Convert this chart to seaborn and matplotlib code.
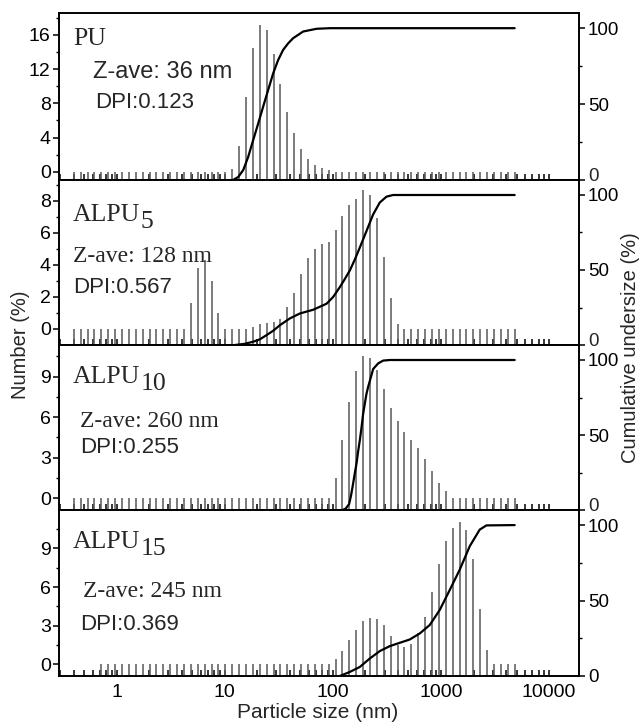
import matplotlib
matplotlib.use("Agg")
import matplotlib.pyplot as plt
from matplotlib.ticker import FixedLocator, LogLocator, NullFormatter, FixedFormatter
import numpy as np
import pandas as pd
import seaborn as sns

# Size classes of the DLS instrument (nm)
size_bins = [0.4000, 0.4632, 0.5365, 0.6213, 0.7195, 0.8332, 0.9649, 1.117, 1.294, 1.499,
             1.736, 2.010, 2.328, 2.696, 3.122, 3.615, 4.187, 4.849, 5.615, 6.503,
             7.531, 8.721, 10.10, 11.70, 13.54, 15.69, 18.17, 21.04, 24.36, 28.21,
             32.67, 37.84, 43.82, 50.75, 58.77, 68.06, 78.82, 91.28, 105.7, 122.4,
             141.8, 164.2, 190.1, 220.2, 255.0, 295.3, 342.0, 396.1, 458.7, 531.2,
             615.1, 712.4, 825.0, 955.4, 1106, 1281, 1484, 1718, 1990, 2305,
             2669, 3091, 3580, 4145, 4801]

# Number distributions (%)
pu_number = [0, 0, 0, 0, 0, 0, 0, 0, 0, 0,
             0, 0, 0, 0, 0, 0, 0, 0, 0, 0,
             0, 0, 0, 0.3, 3.0, 8.7, 14.5, 17.2, 16.6, 13.8,
             10.3, 7.0, 4.5, 2.65, 1.45, 0.8, 0.47, 0.2, 0, 0,
             0, 0, 0, 0, 0, 0, 0, 0, 0, 0,
             0, 0, 0, 0, 0, 0, 0, 0, 0, 0,
             0, 0, 0, 0, 0]
alpu5_number = [0, 0, 0, 0, 0, 0, 0, 0, 0, 0,
                0, 0, 0, 0, 0, 0, 0, 1.6, 3.83, 4.3,
                3.0, 1.0, 0, 0, 0, 0, 0.1, 0.3, 0.35, 0.45,
                0.6, 1.35, 2.26, 3.4, 4.4, 5.0, 5.3, 5.4, 6.2, 7.06,
                7.7, 8.1, 8.67, 8.35, 6.9, 4.5, 1.9, 0.3, 0, 0,
                0, 0, 0, 0, 0, 0, 0, 0, 0, 0,
                0, 0, 0, 0, 0]
alpu10_number = [0, 0, 0, 0, 0, 0, 0, 0, 0, 0,
                 0, 0, 0, 0, 0, 0, 0, 0, 0, 0,
                 0, 0, 0, 0, 0, 0, 0, 0, 0, 0,
                 0, 0, 0, 0, 0, 0, 0, 0, 1.5, 4.3,
                 7.1, 9.4, 10.5, 10.4, 9.5, 8.1, 6.7, 5.7, 4.9, 4.3,
                 3.7, 2.9, 2.0, 1.15, 0.5, 0, 0, 0, 0, 0,
                 0, 0, 0, 0, 0]
alpu15_number = [np.nan, np.nan, np.nan, np.nan, 0, 0, 0, 0, 0, 0,
                 0, 0, 0, 0, 0, 0, 0, 0, 0, 0,
                 0, 0, 0, 0, 0, 0, 0, 0, 0, 0,
                 0, 0, 0, 0, 0, 0, 0, 0, 0.44, 1.0,
                 1.87, 2.65, 3.35, 3.63, 3.5, 3.03, 2.2, 1.53, 1.35, 1.6,
                 2.4, 3.7, 5.6, 7.76, 9.57, 10.6, 11.07, 10.4, 8.15, 4.33,
                 1.09, 0, 0, 0, 0]

# Cumulative undersize curves (size in nm, value in %)
pu_cum_size = [11.9, 13.3, 14.8, 16.4, 18.3, 20.3, 22.6, 25.2, 28.0, 31.1,
               34.6, 38.5, 42.8, 53.0, 70.5, 93.6, 4801]
pu_cum = [0, 2, 6.6, 15, 26.4, 37, 48.3, 59.5, 70.3, 79,
          85.7, 90, 93.4, 97.8, 99.6, 100, 100]
alpu5_cum_size = [12.4, 15.3, 18.3, 21.1, 24.3, 28.0, 32.3, 39.9, 49.4, 65.6,
                  87.2, 100.4, 115.8, 128.8, 143.3, 159.4, 177.3, 204.4, 235.2, 271.3,
                  312.9, 360.1, 4801]
alpu5_cum = [0, 0.8, 2.2, 3.8, 6.6, 9.5, 13.2, 17.7, 21, 23.5,
             27.5, 32, 38.6, 44, 49.7, 57, 65, 76, 87, 95,
             98.9, 100, 100]
alpu10_cum_size = [122.7, 131.5, 141.2, 147.3, 153.7, 159.3, 165.2, 170.9, 177.3, 183.8,
                   190.1, 197.2, 204.2, 211.5, 219.3, 235.5, 261.8, 291.1, 335.7, 4801]
alpu10_cum = [0, 1.0, 4, 10, 17.7, 24.5, 31, 39, 46.5, 55,
              64, 71, 77.4, 82, 86, 94, 97.7, 99.6, 100, 100]
alpu15_cum_size = [115.8, 143.3, 177.3, 219.3, 271.3, 335.7, 415.3, 513.8, 635.8, 786.6,
                   973.2, 1204, 1490, 1843, 2280, 2630, 4801]
alpu15_cum = [0, 2.7, 6, 11.6, 16.5, 19.8, 22, 24.2, 28.2, 33.8,
              43.8, 57, 70.5, 86, 97, 99.8, 100]

sample_names = ["PU", "ALPU", "ALPU", "ALPU"]
sample_subs = ["", "5", "10", "15"]
zave_labels = ["Z-ave: 36 nm", "Z-ave: 128 nm", "Z-ave: 260 nm", "Z-ave: 245 nm"]
dpi_labels = ["DPI:0.123", "DPI:0.567", "DPI:0.255", "DPI:0.369"]
left_ticks = [[0, 4, 8, 12, 16], [0, 2, 4, 6, 8], [0, 3, 6, 9], [0, 3, 6, 9]]
left_minor = [[2, 6, 10, 14, 18], [1, 3, 5, 7, 9], [1.5, 4.5, 7.5, 10.5], [1.5, 4.5, 7.5, 10.5]]
left_limits = [(-0.97, 18.56), (-1.0, 9.29), (-0.87, 11.34), (-0.91, 11.98)]
right_ticks = [0, 50, 100]
right_tick_labels = ["0", "50", "100"]
x_ticks = [1, 10, 100, 1000, 10000]
x_tick_labels = ["1", "10", "100", "1000", "10000"]

numbers = [pu_number, alpu5_number, alpu10_number, alpu15_number]
cum_sizes = [pu_cum_size, alpu5_cum_size, alpu10_cum_size, alpu15_cum_size]
cum_values = [pu_cum, alpu5_cum, alpu10_cum, alpu15_cum]

sns.set_theme(style="ticks")
plt.rcParams["font.family"] = ["Liberation Sans", "DejaVu Sans"]
plt.rcParams["axes.linewidth"] = 1.2
plt.rcParams["axes.edgecolor"] = "black"

W, H = 641, 724
fig = plt.figure(figsize=(W / 100, H / 100), dpi=100)
L, R = 59, 579
tops = [13, 180, 345, 510]
bots = [180, 345, 510, 676]
XLIM = (0.292, 18900)

serif = ["Liberation Serif", "DejaVu Serif"]
sans = ["Liberation Sans", "DejaVu Sans"]

for i in range(4):
    ax = fig.add_axes([L / W, 1 - bots[i] / H, (R - L) / W, (bots[i] - tops[i]) / H])
    ax.set_facecolor("white")
    ax.set_xscale("log")
    y0, y1 = left_limits[i]

    vals = np.array(numbers[i], dtype=float)
    xs = np.array(size_bins)
    ok = ~np.isnan(vals)
    ax.vlines(xs[ok], y0, vals[ok], color="#5e5e5e", lw=1.15, zorder=2)

    ax2 = ax.twinx()
    curve = pd.DataFrame({"size": cum_sizes[i], "cum": cum_values[i]})
    sns.lineplot(data=curve, x="size", y="cum", ax=ax2, color="black", lw=1.6,
                 estimator=None, sort=False, zorder=3)
    ax2.set_ylabel("")
    ax2.set_ylim(0, 110)

    ax.set_xlim(*XLIM)
    ax.set_ylim(y0, y1)
    ax.set_xlabel("")
    ax.yaxis.set_major_locator(FixedLocator(left_ticks[i]))
    ax.yaxis.set_minor_locator(FixedLocator(left_minor[i]))
    ax.xaxis.set_major_locator(FixedLocator(x_ticks))
    ax.xaxis.set_major_formatter(FixedFormatter(x_tick_labels))
    ax.xaxis.set_minor_locator(LogLocator(base=10, subs=np.arange(2, 10) / 1.0, numticks=20))
    ax.xaxis.set_minor_formatter(NullFormatter())
    ax.tick_params(axis="x", which="both", direction="in", length=4.5, width=1.1,
                   colors="black", top=False, labelsize=14, pad=6)
    ax.tick_params(axis="y", which="major", direction="out", length=4.5, width=1.1,
                   labelsize=14, pad=1.5, colors="black")
    ax.tick_params(axis="y", which="minor", direction="out", length=2.5, width=1.0,
                   colors="black")
    if i < 3:
        ax.tick_params(axis="x", labelbottom=False)

    ax2.set_xlabel("")
    ax2.yaxis.set_major_locator(FixedLocator(right_ticks))
    ax2.yaxis.set_minor_locator(FixedLocator([25, 75]))
    if i < 3:
        # the "0" of the upper panels sits a little above the shared border
        ax2.yaxis.set_major_formatter(FixedFormatter([""] + right_tick_labels[1:]))
        ax2.annotate(right_tick_labels[0], xy=(1, 0), xycoords="axes fraction",
                     xytext=(9, 3.5), textcoords="offset pixels", fontsize=13.5,
                     ha="left", va="center", annotation_clip=False)
    else:
        ax2.yaxis.set_major_formatter(FixedFormatter(right_tick_labels))
    ax2.tick_params(axis="y", which="major", direction="out", length=4.5, width=1.1,
                    labelsize=13.5, pad=2, colors="black")
    ax2.tick_params(axis="y", which="minor", direction="out", length=2.5, width=1.0,
                    colors="black")
    ax2.tick_params(axis="x", which="both", bottom=False, top=False,
                    labelbottom=False, labeltop=False)
    for sp in list(ax.spines.values()) + list(ax2.spines.values()):
        sp.set_linewidth(1.2)
        sp.set_color("black")


def ftext(x, y, s, **kw):
    return fig.text(x / W, 1 - y / H, s, **kw)


name_base = [45, 221, 383, 548]
zave_pos = [(93, 78), (73, 262), (80, 427), (83, 597)]
dpi_pos = [(95, 108), (73, 293), (80, 453), (80, 630)]
zave_family = [sans, serif, serif, serif]
zave_size = [17, 17, 17, 17]

name_texts = []
for i in range(4):
    t = ftext(73, name_base[i], sample_names[i], family=serif, fontsize=18.5,
              va="baseline", ha="left")
    name_texts.append(t)
    ftext(zave_pos[i][0], zave_pos[i][1], zave_labels[i], family=zave_family[i],
          fontsize=zave_size[i], va="baseline", ha="left")
    ftext(dpi_pos[i][0], dpi_pos[i][1], dpi_labels[i], family=sans, fontsize=16,
          va="baseline", ha="left")

# Subscripts go right after the sample names, lowered a little
fig.canvas.draw()
renderer = fig.canvas.get_renderer()
for i in range(4):
    if sample_subs[i]:
        bb = name_texts[i].get_window_extent(renderer)
        fig.text((bb.x1 + 0.5) / W, 1 - (name_base[i] + 7) / H, sample_subs[i],
                 family=serif, fontsize=18.5, va="baseline", ha="left")

ftext(21, 345, "Number (%)", family=sans, fontsize=14.5, rotation=90,
      ha="center", va="center")
ftext(631, 348, "Cumulative undersize (%)", family=sans, fontsize=14.5, rotation=90,
      ha="center", va="center")
ftext(318, 713, "Particle size (nm)", family=sans, fontsize=15, ha="center", va="center")

fig.savefig("out.png", dpi=100, facecolor="white")
